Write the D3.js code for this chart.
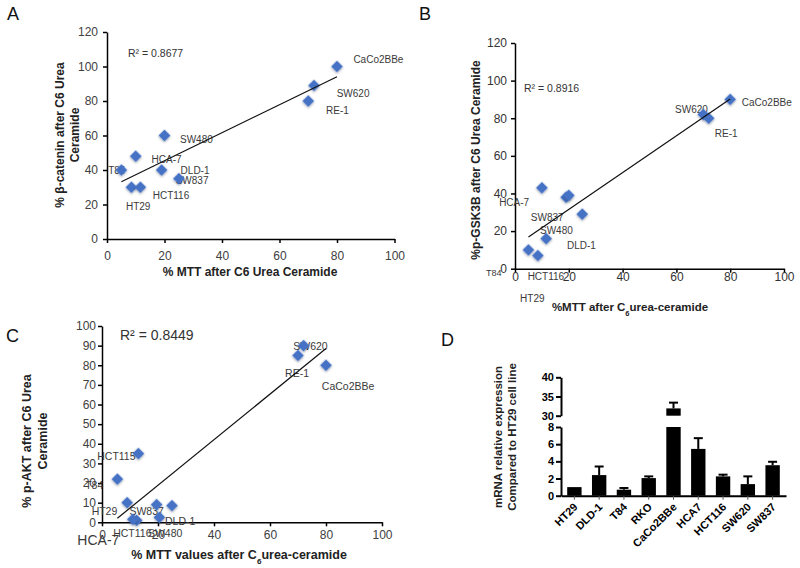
<!DOCTYPE html>
<html><head><meta charset="utf-8">
<script src="https://cdn.jsdelivr.net/npm/d3@7"></script>
<style>
body{margin:0;background:#fff}
svg{display:block}
text{font-family:"Liberation Sans",Arial,Helvetica,sans-serif}
</style>
</head><body>
<svg id="chart" width="800" height="568"></svg>
<script>
// ---------- Panel A data ----------
const cellA = ["CaCo2BBe","SW620","RE-1","SW480","HCA-7","T84","DLD-1","SW837","HT29","HCT116"];
const mttA = [80,72,70,20,10,5,19,25,8.5,11.6];
const betaCateninA = [100,89,80,60,48,40,40,35,30,30];
const labXA = [85.7,79.9,76.2,25.4,15.5,0.4,25.6,23.9,6.6,15.9];
const labYA = [103.8,84.5,74.4,57.4,46.2,40,40,34.2,19.1,25.5];
const r2A = "R² = 0.8677";

// ---------- Panel B data ----------
const cellB = ["CaCo2BBe","SW620","RE-1","HCA-7","DLD-1","SW480","SW837","HCT116","T84","HT29"];
const mttB = [80,70,72,10,19,20,25,11.6,5,8.5];
const pGSK3B = [90,82,80,43,38,39,29,16,10,7];
const labXB = [84.3,59.5,74.3,-5.9,19.3,9.3,5.9,4.7,-10.8,1.9];
const labYB = [88.6,84.6,72.1,35.2,12.5,20.2,27.2,-3.9,-2.1,-15.8];
const r2B = "R² = 0.8916";

// ---------- Panel C data ----------
const cellC = ["SW620","RE-1","CaCo2BBe","HCT115","T84","HT29","SW837","HCT116","SW480","DLD-1","HCA-7"];
const mttC = [72,70,80,13,5.5,9,25,12.4,20.5,19.5,11];
const pAKT = [90,85,80,35,22,10,8.5,1,2.5,9,1.5];
const labXC = [68.3,65.4,78.5,-1.7,-6,-3.7,9.8,4.0,16.4,22.5,-8.8];
const labYC = [89.8,75.9,69.4,33.4,19.0,5.4,5.4,-5.7,-5.7,0.3,-8.9];
const r2C = "R² = 0.8449";

// ---------- Panel D data ----------
const cellD = ["HT29","DLD-1","T84","RKO","CaCo2BBe","HCA7","HCT116","SW620","SW837"];
const mrnaD = [1.0,2.4,0.7,2.05,31.9,5.45,2.25,1.35,3.55];
const mrnaErrD = [0,1.0,0.2,0.2,1.5,1.25,0.2,0.9,0.4];
const yTicksLoD = [0,2,4,6,8];
const yTicksHiD = [30,35,40];

const xTicks = [0,20,40,60,80,100];

const svg = d3.select("#chart");
const MARK = "#4472c4";
const LABC = "#3a3a3a";

const defs = svg.append("defs");
const f = defs.append("filter").attr("id","sh").attr("x","-50%").attr("y","-50%").attr("width","200%").attr("height","200%");
f.append("feDropShadow").attr("dx",0.8).attr("dy",0.8).attr("stdDeviation",0.8).attr("flood-color","#000").attr("flood-opacity",0.35);

function regression(xs, ys){
  const mx = d3.mean(xs), my = d3.mean(ys);
  let sxy=0, sxx=0;
  xs.forEach((v,i)=>{ sxy += (v-mx)*(ys[i]-my); sxx += (v-mx)*(v-mx); });
  const b = sxy/sxx; return {b, a: my - b*mx};
}

function styleAxis(g, size, color, weight, stroke){
  g.select(".domain").attr("stroke","#000").attr("stroke-width",stroke||1.5);
  g.selectAll(".tick line").attr("stroke","#000").attr("stroke-width",stroke||1.5);
  g.selectAll(".tick text").attr("fill",color).style("font-size",size+"px").style("font-weight",weight||"normal");
}

function scatter(o){
  const x = d3.scaleLinear().domain([0,100]).range(o.xr);
  const y = d3.scaleLinear().domain(o.yd).range(o.yr);
  const g = svg.append("g");
  const ax = g.append("g").attr("transform",`translate(0,${o.yr[0]})`)
    .call(d3.axisBottom(x).tickValues(xTicks).tickSize(4).tickSizeOuter(0).tickPadding(o.xpad));
  styleAxis(ax, o.tickFs, o.tickColor);
  const ay = g.append("g").attr("transform",`translate(${o.xr[0]},0)`)
    .call(d3.axisLeft(y).tickValues(o.yt).tickSize(4).tickSizeOuter(0).tickPadding(o.ypad));
  styleAxis(ay, o.tickFs, o.tickColor);

  g.selectAll(".lab").data(o.names).join("text")
    .attr("x",(d,i)=>x(o.lx[i])).attr("y",(d,i)=>y(o.ly[i])).attr("dy","0.35em")
    .attr("fill",LABC)
    .style("font-size",(d,i)=> (o.labFs[d]||o.labF)+"px")
    .text(d=>d);

  const sym = d3.symbol().type(d3.symbolSquare).size(o.msize);
  g.selectAll(".pt").data(o.names).join("path")
    .attr("d",sym)
    .attr("transform",(d,i)=>`translate(${x(o.xs[i])},${y(o.ys[i])}) rotate(45)`)
    .attr("fill",MARK).attr("filter","url(#sh)");

  const r = regression(o.xs, o.ys);
  const x0 = d3.min(o.xs), x1 = d3.max(o.xs);
  g.append("line")
    .attr("x1",x(x0)).attr("y1",y(r.a + r.b*x0))
    .attr("x2",x(x1)).attr("y2",y(r.a + r.b*x1))
    .attr("stroke","#111").attr("stroke-width",1.2);

  g.append("text").attr("x",o.r2pos[0]).attr("y",o.r2pos[1]).attr("dy","0.35em")
    .attr("fill","#333").style("font-size",o.r2fs+"px").text(o.r2);
  return {x,y,g};
}

scatter({xr:[107,394.5], yd:[0,120], yr:[239,32], yt:[0,20,40,60,80,100,120],
  xpad:8, ypad:5, tickFs:12, tickColor:"#404040",
  names:cellA, xs:mttA, ys:betaCateninA, lx:labXA, ly:labYA, labF:10, labFs:{},
  msize:70, r2:r2A, r2pos:[128,53], r2fs:10.5});

scatter({xr:[515,784], yd:[0,120], yr:[268.7,43], yt:[0,20,40,60,80,100,120],
  xpad:0, ypad:4, tickFs:12, tickColor:"#333",
  names:cellB, xs:mttB, ys:pGSK3B, lx:labXB, ly:labYB, labF:10, labFs:{"T84":9},
  msize:70, r2:r2B, r2pos:[524,88], r2fs:10.5});

scatter({xr:[102,382], yd:[0,100], yr:[522.3,326], yt:[0,10,20,30,40,50,60,70,80,90,100],
  xpad:4.5, ypad:2, tickFs:12, tickColor:"#404040",
  names:cellC, xs:mttC, ys:pAKT, lx:labXC, ly:labYC, labF:10.5, labFs:{"HCA-7":14},
  msize:70, r2:r2C, r2pos:[120,335], r2fs:14});

function title(x,y,lines,fs,rot){
  const t = svg.append("text").attr("transform",`translate(${x},${y})${rot?" rotate(-90)":""}`)
    .attr("text-anchor","middle").style("font-size",fs+"px").style("font-weight","bold").attr("fill","#222");
  lines.forEach((ln,i)=>{
    const tl = t.append("tspan").attr("x",0).attr("dy", i===0? "0.35em" : "1.25em");
    ln.forEach(seg=>{
      if(typeof seg === "object"){ tl.append("tspan").attr("baseline-shift","sub").style("font-size",(fs*0.65)+"px").text(seg.subscript); }
      else tl.append("tspan").text(seg);
    });
  });
  return t;
}
title(250,272,[["% MTT after C6 Urea Ceramide"]],12);
title(60,135,[["% β-catenin after C6 Urea"],["Ceramide"]],12,true);
title(630,307,[["%MTT  after C",{subscript:"6"},"urea-ceramide"]],11.5);
title(476,160,[["%p-GSK3B  after C6 Urea Ceramide"]],12,true);
title(239,555,[["% MTT values after C",{subscript:"6"},"urea-ceramide"]],12.5);
title(27,441,[["% p-AKT after C6 Urea"],["Ceramide"]],12.5,true);
title(498,437,[["mRNA relative expression"],["Compared to HT29 cell line"]],11.5,true);

[["A",7,14],["B",419,14],["C",6,336],["D",441,340]].forEach(([l,x,y])=>{
  svg.append("text").attr("x",x).attr("y",y).attr("dy","0.35em").style("font-size","18px").attr("fill","#111").text(l);
});

const xD = d3.scaleBand().domain(cellD).range([561,786]).paddingInner(0.42).paddingOuter(0.25);
const yLo = d3.scaleLinear().domain([0,8]).range([495.7,427]);
const yHi = d3.scaleLinear().domain([30,40]).range([415.7,377.3]);
const gD = svg.append("g");
const axLo = gD.append("g").attr("transform","translate(561,0)")
  .call(d3.axisLeft(yLo).tickValues(yTicksLoD).tickSize(5).tickSizeOuter(0).tickPadding(2));
styleAxis(axLo, 11, "#000", "bold", 2);
const axHi = gD.append("g").attr("transform","translate(561,0)")
  .call(d3.axisLeft(yHi).tickValues(yTicksHiD).tickSize(5).tickSizeOuter(0).tickPadding(2));
styleAxis(axHi, 11, "#000", "bold", 2);
const axX = gD.append("g").attr("transform",`translate(0,${yLo(0)})`)
  .call(d3.axisBottom(xD).tickSize(4).tickSizeOuter(0));
axX.select(".domain").attr("stroke","#000").attr("stroke-width",2);
axX.selectAll(".tick line").attr("stroke","#555").attr("stroke-width",1);
axX.selectAll(".tick text")
  .attr("text-anchor","end").attr("x",0).attr("y",0).attr("dy",0)
  .attr("transform","translate(4,12) rotate(-45)")
  .style("font-size","11px").style("font-weight","bold").attr("fill","#000");

const bw = xD.bandwidth();
cellD.forEach((c,i)=>{
  const v = mrnaD[i], e = mrnaErrD[i], cx = xD(c)+bw/2;
  const lo = Math.min(v,8);
  gD.append("rect").attr("x",xD(c)).attr("width",bw).attr("y",yLo(lo)).attr("height",yLo(0)-yLo(lo)).attr("fill","#000");
  let ys, ye;
  if(v>8){
    gD.append("rect").attr("x",xD(c)).attr("width",bw).attr("y",yHi(v)).attr("height",yHi(30)-yHi(v)).attr("fill","#000");
    ys = yHi(v); ye = yHi(v+e);
  } else { ys = yLo(v); ye = yLo(v+e); }
  if(e>0){
    gD.append("line").attr("x1",cx).attr("x2",cx).attr("y1",ys).attr("y2",ye).attr("stroke","#000").attr("stroke-width",2);
    gD.append("line").attr("x1",cx-4.5).attr("x2",cx+4.5).attr("y1",ye).attr("y2",ye).attr("stroke","#000").attr("stroke-width",2);
  }
});
</script>
</body></html>
